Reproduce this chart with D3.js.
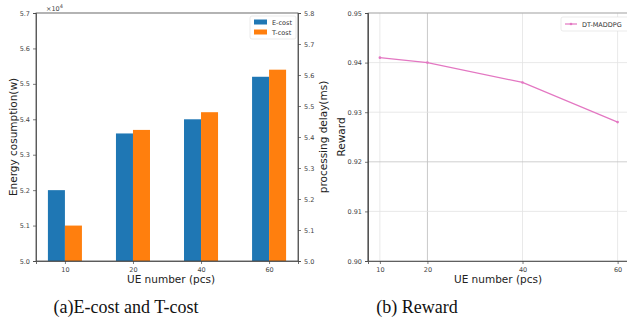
<!DOCTYPE html>
<html>
<head>
<meta charset="utf-8">
<script src="https://cdn.jsdelivr.net/npm/d3@7"></script>
<style>
  body { margin: 0; background: #fff; }
</style>
</head>
<body>
<div id="fig"></div>
<script>
var ueNums = ["10", "20", "40", "60"];
var eCost = [5.20, 5.36, 5.40, 5.52];
var tCost = [5.10, 5.37, 5.42, 5.54];
var leftTicks = [5.0, 5.1, 5.2, 5.3, 5.4, 5.5, 5.6, 5.7];
var rightTicks = [5.0, 5.1, 5.2, 5.3, 5.4, 5.5, 5.6, 5.7, 5.8];

var ueX = [10, 20, 40, 60];
var reward = [0.941, 0.940, 0.936, 0.928];
var rewardTicks = [0.90, 0.91, 0.92, 0.93, 0.94, 0.95];

var sans = "DejaVu Sans, sans-serif";
var serif = "Liberation Serif, Times New Roman, serif";

var svg = d3.select("#fig").append("svg")
  .attr("width", 627)
  .attr("height", 322)
  .style("font-family", sans);

// ---- (a) bar chart ----
var a = {l: 36, r: 298, t: 13, b: 261};
var x1 = d3.scaleLinear().domain([-0.425, 3.425]).range([a.l, a.r]);
var y1 = d3.scaleLinear().domain([5.0, 5.7]).range([a.b, a.t]);
var y1r = d3.scaleLinear().domain([5.0, 5.8]).range([a.b, a.t]);
var bw = x1(0.25) - x1(0);

var g1 = svg.append("g");
g1.selectAll("rect.e").data(eCost).enter().append("rect")
  .attr("class", "e")
  .attr("x", function(d, i){ return x1(i - 0.25); })
  .attr("y", function(d){ return y1(d); })
  .attr("width", bw)
  .attr("height", function(d){ return y1(5.0) - y1(d); })
  .attr("fill", "#1f77b4");
g1.selectAll("rect.t").data(tCost).enter().append("rect")
  .attr("class", "t")
  .attr("x", function(d, i){ return x1(i); })
  .attr("y", function(d){ return y1(d); })
  .attr("width", bw)
  .attr("height", function(d){ return y1(5.0) - y1(d); })
  .attr("fill", "#ff7f0e");

g1.append("rect")
  .attr("x", a.l).attr("y", a.t)
  .attr("width", a.r - a.l).attr("height", a.b - a.t)
  .attr("fill", "none").attr("stroke", "#444").attr("stroke-width", 0.8);

g1.append("g").attr("transform", "translate(" + a.l + ",0)")
  .call(d3.axisLeft(y1).tickValues(leftTicks).tickFormat(d3.format(".1f")).tickSize(3));
g1.append("g").attr("transform", "translate(" + a.r + ",0)")
  .call(d3.axisRight(y1r).tickValues(rightTicks).tickFormat(d3.format(".1f")).tickSize(3));
g1.append("g").attr("transform", "translate(0," + a.b + ")")
  .call(d3.axisBottom(x1).tickValues([0, 1, 2, 3]).tickFormat(function(d){ return ueNums[d]; }).tickSize(3));

g1.append("text").attr("x", 46).attr("y", 11).attr("font-size", 6.5).attr("fill", "#444")
  .text("\u00d710").append("tspan").attr("dy", -3).attr("font-size", 5).text("4");

g1.append("text")
  .attr("transform", "translate(17," + ((a.t + a.b) / 2) + ") rotate(-90)")
  .attr("text-anchor", "middle").attr("font-size", 10.5).attr("fill", "#222")
  .text("Energy cosumption(w)");
g1.append("text")
  .attr("transform", "translate(327," + ((a.t + a.b) / 2) + ") rotate(-90)")
  .attr("text-anchor", "middle").attr("font-size", 10.5).attr("fill", "#222")
  .text("processing delay(ms)");
g1.append("text")
  .attr("x", (a.l + a.r) / 2 + 4).attr("y", 283)
  .attr("text-anchor", "middle").attr("font-size", 10.5).attr("fill", "#222")
  .text("UE number (pcs)");

// legend
var lg1 = g1.append("g").attr("transform", "translate(250,16)");
lg1.append("rect").attr("width", 46).attr("height", 23).attr("rx", 2)
  .attr("fill", "#fff").attr("stroke", "#ddd").attr("stroke-width", 0.6);
var legItems = [["E-cost", "#1f77b4"], ["T-cost", "#ff7f0e"]];
legItems.forEach(function(d, i){
  lg1.append("rect").attr("x", 4).attr("y", 3.5 + i * 10).attr("width", 13).attr("height", 5).attr("fill", d[1]);
  lg1.append("text").attr("x", 22).attr("y", 8.5 + i * 10).attr("font-size", 6.5).attr("fill", "#333").text(d[0]);
});

// ---- (b) line chart ----
var b = {l: 368, r: 629.5, t: 13, b: 261};
var x2 = d3.scaleLinear().domain([7.5, 62.5]).range([b.l, b.r]);
var y2 = d3.scaleLinear().domain([0.90, 0.95]).range([b.b, b.t]);

var g2 = svg.append("g");
g2.selectAll("line.vg").data(ueX).enter().append("line")
  .attr("x1", function(d){ return x2(d); }).attr("x2", function(d){ return x2(d); })
  .attr("y1", b.t).attr("y2", b.b)
  .attr("stroke", function(d){ return d === 20 ? "#bbb" : "#e2e2e2"; }).attr("stroke-width", 0.8);
g2.selectAll("line.hg").data(rewardTicks).enter().append("line")
  .attr("x1", b.l).attr("x2", b.r)
  .attr("y1", function(d){ return y2(d); }).attr("y2", function(d){ return y2(d); })
  .attr("stroke", function(d){ return Math.abs(d - 0.92) < 1e-9 ? "#c4c4c4" : "#e2e2e2"; }).attr("stroke-width", 0.8);

g2.append("rect")
  .attr("x", b.l).attr("y", b.t)
  .attr("width", b.r - b.l).attr("height", b.b - b.t)
  .attr("fill", "none").attr("stroke", "#999").attr("stroke-width", 0.8);
g2.append("line").attr("x1", b.l).attr("x2", b.l).attr("y1", b.t).attr("y2", b.b)
  .attr("stroke", "#444").attr("stroke-width", 0.9);

var line = d3.line()
  .x(function(d, i){ return x2(ueX[i]); })
  .y(function(d){ return y2(d); });
g2.append("path").datum(reward)
  .attr("d", line).attr("fill", "none").attr("stroke", "#e377c2").attr("stroke-width", 1.2);
g2.selectAll("circle.pt").data(reward).enter().append("circle")
  .attr("cx", function(d, i){ return x2(ueX[i]); })
  .attr("cy", function(d){ return y2(d); })
  .attr("r", 1.3).attr("fill", "#e377c2");

g2.append("g").attr("transform", "translate(" + b.l + ",0)")
  .call(d3.axisLeft(y2).tickValues(rewardTicks).tickFormat(d3.format(".2f")).tickSize(3));
g2.append("g").attr("transform", "translate(0," + b.b + ")")
  .call(d3.axisBottom(x2).tickValues(ueX).tickFormat(d3.format("d")).tickSize(3));

g2.append("text")
  .attr("transform", "translate(345," + ((b.t + b.b) / 2) + ") rotate(-90)")
  .attr("text-anchor", "middle").attr("font-size", 10.5).attr("fill", "#222")
  .text("Reward");
g2.append("text")
  .attr("x", 498).attr("y", 283)
  .attr("text-anchor", "middle").attr("font-size", 10.5).attr("fill", "#222")
  .text("UE number (pcs)");

var lg2 = g2.append("g").attr("transform", "translate(561,17)");
lg2.append("rect").attr("width", 68).attr("height", 14).attr("rx", 2)
  .attr("fill", "#fff").attr("stroke", "#ddd").attr("stroke-width", 0.6);
lg2.append("line").attr("x1", 4).attr("x2", 16).attr("y1", 7).attr("y2", 7)
  .attr("stroke", "#e377c2").attr("stroke-width", 1.2);
lg2.append("circle").attr("cx", 10).attr("cy", 7).attr("r", 1.3).attr("fill", "#e377c2");
lg2.append("text").attr("x", 21).attr("y", 9.5).attr("font-size", 6.5).attr("fill", "#333").text("DT-MADDPG");

// axis styling
svg.selectAll(".domain").attr("stroke", "#444").attr("stroke-width", 0.8);
svg.selectAll(".tick line").attr("stroke", "#444").attr("stroke-width", 0.7);
svg.selectAll(".tick text").attr("font-size", 6.5).attr("fill", "#444")
  .attr("font-family", sans);

// captions
svg.append("text").attr("x", 126).attr("y", 313).attr("text-anchor", "middle")
  .style("font-family", serif).attr("font-size", 18).attr("fill", "#111")
  .text("(a)E-cost and T-cost");
svg.append("text").attr("x", 417).attr("y", 313).attr("text-anchor", "middle")
  .style("font-family", serif).attr("font-size", 18).attr("fill", "#111")
  .text("(b) Reward");
</script>
</body>
</html>
